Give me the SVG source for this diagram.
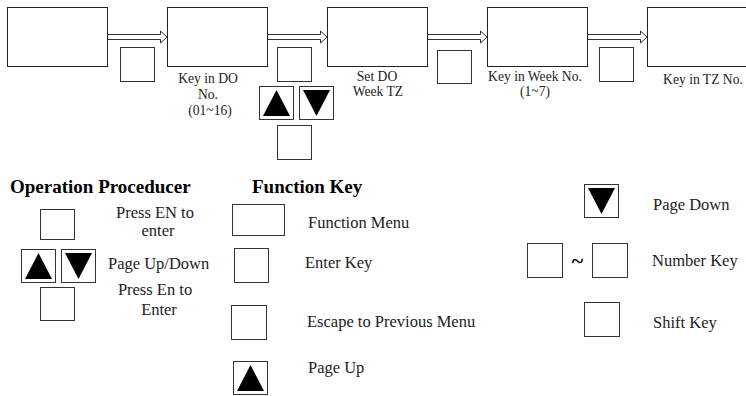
<svg xmlns="http://www.w3.org/2000/svg" width="746" height="396" viewBox="0 0 746 396">
<defs>
<style>
.b{fill:#fff;stroke:#222;stroke-width:1}
.k{fill:#fff;stroke:#333;stroke-width:1}
.tri{fill:#000}
.arr{fill:#fff;stroke:#333;stroke-width:1}
.t{font-family:"Liberation Serif","Times New Roman",serif;font-size:13.6px;fill:#222}
.m{font-family:"Liberation Serif","Times New Roman",serif;font-size:16.5px;fill:#222}
.h{font-family:"Liberation Serif","Times New Roman",serif;font-size:19px;font-weight:bold;fill:#000}
</style>
<g id="upkey"><rect class="k" x="0.5" y="0.5" width="34" height="33"/><polygon class="tri" points="17.5,4 31,30 4,30"/></g>
<g id="dnkey"><rect class="k" x="0.5" y="0.5" width="34" height="33"/><polygon class="tri" points="4,4 31,4 17.5,30"/></g>
</defs>
<rect width="746" height="396" fill="#fff"/>

<g id="connectors">
<polygon class="arr" points="107,34.5 160.5,34.5 160.5,31 167,37 160.5,43 160.5,39.5 107,39.5"/>
<polygon class="arr" points="267,34.5 320.5,34.5 320.5,31 327,37 320.5,43 320.5,39.5 267,39.5"/>
<polygon class="arr" points="427,34.5 480.5,34.5 480.5,31 487,37 480.5,43 480.5,39.5 427,39.5"/>
<polygon class="arr" points="587,34.5 640.5,34.5 640.5,31 647,37 640.5,43 640.5,39.5 587,39.5"/>
</g>

<g id="step1"><rect class="b" x="7.5" y="7.5" width="100" height="59"/></g>
<g id="step2"><rect class="b" x="167.5" y="7.5" width="100" height="59"/>
<text class="t" x="208" y="83" text-anchor="middle">Key in DO</text>
<text class="t" x="208" y="99" text-anchor="middle">No.</text>
<text class="t" x="210" y="115" text-anchor="middle">(01~16)</text></g>
<g id="step3"><rect class="b" x="327.5" y="7.5" width="100" height="59"/>
<text class="t" x="377" y="81" text-anchor="middle">Set DO</text>
<text class="t" x="378" y="96" text-anchor="middle">Week TZ</text></g>
<g id="step4"><rect class="b" x="487.5" y="7.5" width="100" height="59"/>
<text class="t" x="535" y="81" text-anchor="middle">Key in Week No.</text>
<text class="t" x="535" y="96" text-anchor="middle">(1~7)</text></g>
<g id="step5"><rect class="b" x="647.5" y="7.5" width="100" height="59"/>
<text class="t" x="703" y="84" text-anchor="middle">Key in TZ No.</text></g>

<g id="key-a1"><rect class="k" x="120.5" y="47.5" width="34" height="34"/></g>
<g id="key-a2"><rect class="k" x="277.5" y="47.5" width="34" height="34"/>
<use href="#upkey" x="259" y="86"/><use href="#dnkey" x="299" y="86"/>
<rect class="k" x="277.5" y="125.5" width="34" height="34"/></g>
<g id="key-a3"><rect class="k" x="437.5" y="50.5" width="34" height="33"/></g>
<g id="key-a4"><rect class="k" x="599.5" y="47.5" width="34" height="34"/></g>

<g id="legend-op">
<text class="h" x="10" y="193">Operation Proceducer</text>
<rect class="k" x="40.5" y="209.5" width="34" height="30"/>
<use href="#upkey" x="21" y="249"/><use href="#dnkey" x="61" y="249"/>
<rect class="k" x="40.5" y="287.5" width="34" height="33"/>
<text class="m" x="155" y="218" text-anchor="middle">Press EN to</text>
<text class="m" x="158" y="236" text-anchor="middle">enter</text>
<text class="m" x="108" y="269">Page Up/Down</text>
<text class="m" x="155" y="295" text-anchor="middle">Press En to</text>
<text class="m" x="159" y="315" text-anchor="middle">Enter</text>
</g>

<g id="legend-fk">
<text class="h" x="252" y="193">Function Key</text>
<rect class="k" x="232.5" y="204.5" width="52" height="31"/>
<text class="m" x="308" y="228">Function Menu</text>
<rect class="k" x="234.5" y="248.5" width="34" height="34"/>
<text class="m" x="305" y="268">Enter Key</text>
<rect class="k" x="231.5" y="305.5" width="35" height="34"/>
<text class="m" x="307" y="327">Escape to Previous Menu</text>
<use href="#upkey" x="233" y="361"/>
<text class="m" x="308" y="373">Page Up</text>
</g>

<g id="legend-right">
<use href="#dnkey" x="584" y="184"/>
<text class="m" x="653" y="210">Page Down</text>
<rect class="k" x="527.5" y="243.5" width="35" height="34"/>
<text x="577.5" y="268" text-anchor="middle" style="font-family:'Liberation Serif',serif;font-size:22px;font-weight:bold">~</text>
<rect class="k" x="592.5" y="243.5" width="35" height="34"/>
<text class="m" x="652" y="266">Number Key</text>
<rect class="k" x="584.5" y="302.5" width="35" height="34"/>
<text class="m" x="653" y="328">Shift Key</text>
</g>
</svg>
